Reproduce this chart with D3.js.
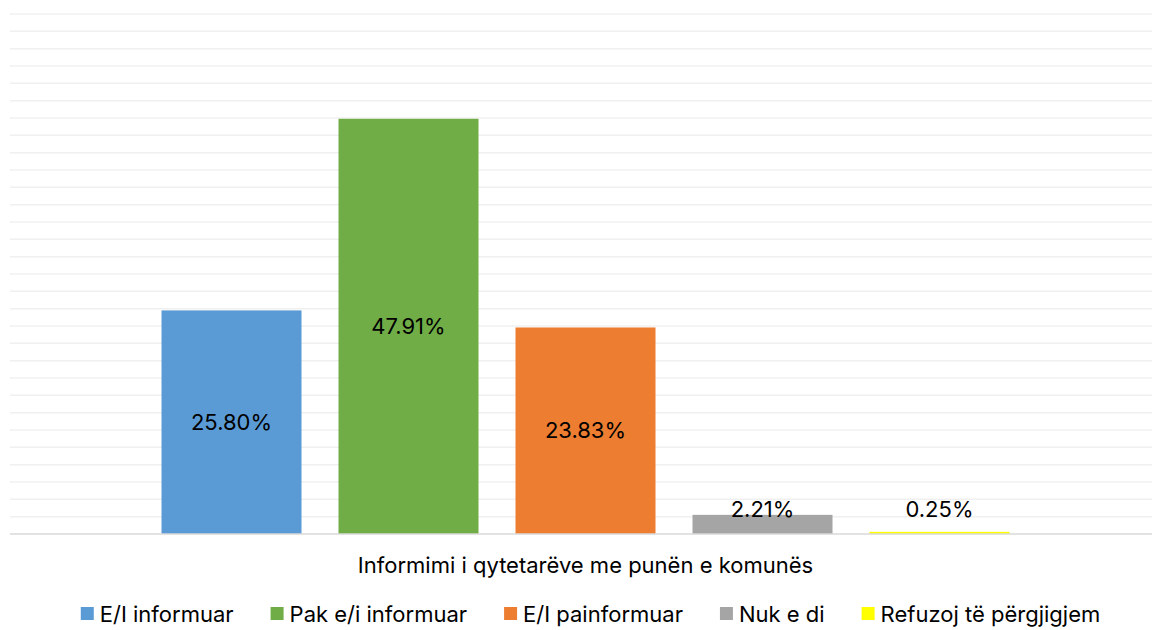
<!DOCTYPE html>
<html>
<head>
<meta charset="utf-8">
<script src="https://cdn.jsdelivr.net/npm/d3@7"></script>
<style>
  body { margin: 0; background: #fff; }
  svg { display: block; font-family: Inter, "Open Sans", sans-serif; }
</style>
</head>
<body>
<svg width="1152" height="630"></svg>
<script>
// one category, five answers
let category = 'Informimi i qytetarëve me punën e komunës'
let answers = ['E/I informuar', 'Pak e/i informuar', 'E/I painformuar', 'Nuk e di', 'Refuzoj të përgjigjem']
let shares = [25.80, 47.91, 23.83, 2.21, 0.25]
let yTicks = d3.range(0, 61, 2)
let colors = ['#5B9BD5', '#70AD47', '#ED7D31', '#A5A5A5', '#FFFF00']

let svg = d3.select('svg')
let plotLeft = 10, plotRight = 1161, plotTop = 14, plotBottom = 534
let fontSize = 22

let x = d3.scaleBand()
  .domain(answers)
  .range([plotLeft, plotRight])
  .paddingInner(0.209)
  .paddingOuter(0.856)

let y = d3.scaleLinear()
  .domain([0, 60])
  .range([plotBottom, plotTop])

// gridlines
svg.selectAll('line.grid')
  .data(yTicks.filter(t => t > 0))
  .enter().append('line')
  .attr('class', 'grid')
  .attr('x1', plotLeft)
  .attr('x2', plotRight)
  .attr('y1', t => y(t))
  .attr('y2', t => y(t))
  .attr('stroke', '#F0F0F0')
  .attr('stroke-width', 1.5)

let data = answers.map((a, i) => ({ answer: a, value: shares[i], color: colors[i] }))

svg.selectAll('rect.bar')
  .data(data)
  .enter().append('rect')
  .attr('class', 'bar')
  .attr('x', d => x(d.answer))
  .attr('y', d => y(d.value))
  .attr('width', x.bandwidth())
  .attr('height', d => y(0) - y(d.value))
  .attr('fill', d => d.color)

// baseline
svg.append('line')
  .attr('x1', plotLeft)
  .attr('x2', plotRight)
  .attr('y1', y(0))
  .attr('y2', y(0))
  .attr('stroke', '#D9D9D9')
  .attr('stroke-width', 1.5)

svg.selectAll('text.label')
  .data(data)
  .enter().append('text')
  .attr('class', 'label')
  .attr('x', d => x(d.answer) + x.bandwidth() / 2)
  .attr('y', d => Math.min((y(d.value) + y(0)) / 2, y(0) - 25))
  .attr('dy', '0.35em')
  .attr('text-anchor', 'middle')
  .attr('font-size', fontSize)
  .attr('fill', '#000')
  .text(d => d.value.toFixed(2) + '%')

// category name under the axis
svg.append('text')
  .attr('x', 585.5)
  .attr('y', 565)
  .attr('dy', '0.35em')
  .attr('text-anchor', 'middle')
  .attr('font-size', fontSize)
  .attr('fill', '#000')
  .text(category)

// legend
let legend = svg.append('g')
let lx = 0
data.forEach(function (d) {
  let item = legend.append('g').attr('transform', 'translate(' + lx + ',0)')
  item.append('rect')
    .attr('x', 0)
    .attr('y', -7)
    .attr('width', 13)
    .attr('height', 13)
    .attr('fill', d.color)
  let t = item.append('text')
    .attr('x', 19)
    .attr('y', 0)
    .attr('dy', '0.35em')
    .attr('font-size', fontSize)
    .attr('fill', '#000')
    .text(d.answer)
  lx += 19 + t.node().getComputedTextLength() + 37
})
let legendWidth = lx - 37
legend.attr('transform', 'translate(' + (590.5 - legendWidth / 2) + ',614)')
</script>
</body>
</html>
